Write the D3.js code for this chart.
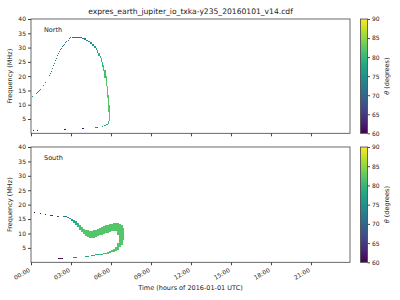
<!DOCTYPE html>
<html>
<head>
<meta charset="utf-8">
<script src="https://cdn.jsdelivr.net/npm/d3@7"></script>
<style>
  body { margin: 0; background: #fff; }
  text { font-family: "DejaVu Sans", sans-serif; fill: #222; }
</style>
</head>
<body>
<div id="chart"></div>
<script>
// time ticks (hours) and their labels
var hourTicks = [0, 3, 6, 9, 12, 15, 18, 21];
var hourLabels = ["00:00", "03:00", "06:00", "09:00", "12:00", "15:00", "18:00", "21:00"];
var freqTicks = [5, 10, 15, 20, 25, 30, 35, 40];
var thetaTicks = [60, 65, 70, 75, 80, 85, 90];

// each row: [start hour, end hour, freq low (MHz), freq high (MHz), theta (deg)]
var north = [
  [0.05, 0.12, 12.7, 13.05, 73], [0.35, 0.42, 13.85, 14.2, 73], [0.43, 0.5, 14.05, 14.4, 73],
  [0.5, 0.57, 14.45, 14.8, 73], [0.58, 0.65, 14.75, 15.1, 73], [0.65, 0.72, 15.15, 15.5, 73],
  [0.9, 0.97, 16.65, 17.0, 73], [1.05, 1.12, 17.75, 18.1, 73], [1.35, 1.42, 20.15, 20.5, 72],
  [1.42, 1.49, 20.85, 21.2, 72], [1.5, 1.57, 21.55, 21.9, 72], [1.57, 1.64, 22.65, 23.0, 72],
  [1.64, 1.71, 23.55, 23.9, 72], [1.71, 1.78, 24.35, 24.7, 72], [1.78, 1.85, 25.25, 25.6, 72],
  [1.86, 1.93, 26.15, 26.5, 72], [1.93, 2.0, 26.95, 27.3, 72], [2.01, 2.08, 27.75, 28.1, 72],
  [2.08, 2.15, 28.45, 28.8, 72], [2.16, 2.23, 29.05, 29.4, 71], [2.23, 2.3, 29.65, 30.0, 71],
  [2.31, 2.38, 30.15, 30.5, 71], [2.38, 2.45, 30.55, 30.9, 71], [2.46, 2.53, 31.05, 31.4, 71],
  [2.55, 2.62, 31.45, 31.8, 71], [2.66, 2.73, 31.95, 32.3, 71], [2.76, 2.83, 32.45, 32.8, 71],
  [2.85, 2.92, 32.85, 33.2, 70], [2.96, 3.03, 33.25, 33.6, 70], [3.06, 3.85, 33.4, 33.8, 70],
  [3.85, 4.0, 33.1, 33.5, 71], [4.0, 4.15, 32.8, 33.2, 72], [4.15, 4.3, 32.3, 32.8, 73],
  [4.3, 4.45, 31.9, 32.4, 74], [4.45, 4.6, 31.3, 31.9, 75], [4.6, 4.7, 30.7, 31.3, 76],
  [4.7, 4.85, 30.0, 30.7, 77], [4.85, 4.95, 29.1, 30.0, 78], [4.95, 5.05, 28.1, 29.1, 78],
  [5.05, 5.15, 27.2, 28.1, 79], [5.15, 5.25, 26.3, 27.2, 79], [5.25, 5.35, 25.1, 26.3, 80],
  [5.35, 5.42, 23.3, 25.1, 80], [5.42, 5.5, 21.8, 23.9, 81], [5.5, 5.6, 19.4, 22.2, 81],
  [5.6, 5.68, 16.6, 20.1, 82], [5.68, 5.78, 12.4, 16.6, 82], [5.78, 5.87, 7.5, 13.4, 82],
  [5.87, 5.95, 4.3, 9.9, 82],
  [5.8, 5.87, 3.3, 4.3, 80], [5.65, 5.8, 2.9, 3.3, 79], [5.5, 5.6, 2.6, 2.9, 78],
  [5.3, 5.4, 2.2, 2.6, 77], [4.8, 5.05, 1.9, 2.2, 74],
  [3.8, 4.0, 1.4, 1.8, 61], [2.45, 2.6, 1.15, 1.5, 61], [0.17, 0.25, 0.85, 1.2, 61], [0.43, 0.5, 0.85, 1.2, 61]
];

var south = [
  [0.2, 0.27, 17.25, 17.6, 60], [0.68, 0.75, 16.8, 17.15, 61], [1.05, 1.12, 16.4, 16.75, 62],
  [1.45, 1.65, 16.05, 16.4, 64], [1.92, 2.12, 15.85, 16.2, 67], [2.42, 2.68, 15.55, 15.9, 72],
  [2.68, 2.85, 15.3, 15.6, 74],
  [2.85, 3.0, 14.93, 15.28, 76], [3.0, 3.15, 14.5, 15.0, 77], [3.15, 3.3, 13.8, 14.7, 78],
  [3.3, 3.45, 12.95, 14.2, 79], [3.45, 3.6, 12.1, 13.65, 80], [3.6, 3.75, 11.2, 12.95, 81],
  [3.75, 3.9, 10.35, 12.25, 82], [3.9, 4.05, 9.65, 11.65, 82], [4.05, 4.2, 9.15, 11.3, 82],
  [4.2, 4.35, 8.8, 11.05, 82], [4.35, 4.5, 8.6, 10.9, 82], [4.5, 4.65, 8.55, 10.9, 82],
  [4.65, 4.8, 8.6, 11.05, 82], [4.8, 4.95, 8.8, 11.3, 82], [4.95, 5.1, 9.0, 11.65, 82],
  [5.1, 5.25, 9.3, 12.0, 82], [5.25, 5.4, 9.6, 12.3, 82], [5.4, 5.55, 9.8, 12.6, 82],
  [5.55, 5.7, 10.05, 12.85, 82], [5.7, 5.85, 10.3, 13.1, 82], [5.85, 6.0, 10.5, 13.3, 82],
  [6.0, 6.15, 10.7, 13.45, 82], [6.15, 6.3, 10.8, 13.65, 82], [6.3, 6.45, 10.85, 13.7, 82],
  [6.45, 6.6, 9.5, 13.65, 82], [6.6, 6.75, 5.3, 13.4, 82], [6.75, 6.9, 6.0, 12.95, 82],
  [6.9, 7.0, 7.75, 11.9, 82],
  [6.45, 6.6, 4.25, 6.7, 82], [6.3, 6.45, 4.0, 5.15, 82], [6.15, 6.3, 3.65, 4.6, 82],
  [6.0, 6.15, 3.4, 4.1, 82], [5.85, 6.0, 3.25, 3.75, 82], [5.7, 5.85, 3.05, 3.5, 82],
  [5.55, 5.7, 2.9, 3.3, 81], [5.4, 5.55, 2.8, 3.15, 81], [5.25, 5.4, 2.7, 3.0, 80],
  [5.1, 5.25, 2.6, 2.9, 80], [4.95, 5.1, 2.55, 2.8, 79], [4.8, 4.95, 2.5, 2.75, 79],
  [4.65, 4.8, 2.45, 2.7, 79], [4.5, 4.65, 2.4, 2.65, 78], [4.05, 4.35, 2.0, 2.3, 77],
  [3.15, 3.45, 1.5, 1.85, 74], [2.05, 2.4, 1.2, 1.5, 61]
];

var width = 400, height = 300;
var svg = d3.select("#chart").append("svg")
    .attr("width", width)
    .attr("height", height);

var x = d3.scaleLinear().domain([0, 23.93]).range([31, 350]);
var color = d3.scaleSequential(d3.interpolateViridis).domain([60, 90]);

svg.append("text")
  .attr("x", 190.5).attr("y", 14)
  .attr("text-anchor", "middle")
  .style("font-size", "7.6px")
  .text("expres_earth_jupiter_io_txka-y235_20160101_v14.cdf");

// gradient for the colorbars
var grad = svg.append("defs").append("linearGradient")
  .attr("id", "viridis").attr("x1", 0).attr("y1", 1).attr("x2", 0).attr("y2", 0);
d3.range(0, 1.01, 0.1).forEach(function(s) {
  grad.append("stop").attr("offset", s).attr("stop-color", d3.interpolateViridis(s));
});

function panel(data, top, bottom, name, showX) {
  var y = d3.scaleLinear().domain([0, 40]).range([bottom, top]);
  var g = svg.append("g");

  g.selectAll("rect.cell")
    .data(data)
    .enter().append("rect")
      .attr("class", "cell")
      .attr("x", function(d) { return x(d[0]); })
      .attr("width", function(d) { return Math.max(1, x(d[1]) - x(d[0])); })
      .attr("y", function(d) { return y(d[3]); })
      .attr("height", function(d) { return Math.max(1, y(d[2]) - y(d[3])); })
      .attr("fill", function(d) { return color(d[4]); })
      .attr("shape-rendering", "crispEdges");

  // frame
  g.append("rect")
    .attr("x", 31).attr("y", top)
    .attr("width", 319).attr("height", bottom - top)
    .attr("fill", "none").attr("stroke", "#444").attr("stroke-width", 0.8);

  var yAxis = g.append("g")
    .attr("transform", "translate(31,0)")
    .call(d3.axisLeft(y).tickValues(freqTicks).tickSize(3).tickPadding(2));
  yAxis.select(".domain").remove();
  yAxis.selectAll("line").attr("stroke", "#444");
  yAxis.selectAll("text").style("font-size", "6px").style("font-family", "DejaVu Sans").attr("fill", "#222");

  var xAxis = g.append("g")
    .attr("transform", "translate(0," + bottom + ")")
    .call(d3.axisBottom(x).tickValues(hourTicks).tickSize(3)
      .tickFormat(function(d, i) { return showX ? hourLabels[i] : ""; }));
  xAxis.select(".domain").remove();
  xAxis.selectAll("line").attr("stroke", "#444");
  xAxis.selectAll("text")
    .style("font-size", "6px").style("font-family", "DejaVu Sans").attr("fill", "#222")
    .attr("text-anchor", "end")
    .attr("dy", null).attr("y", 0)
    .attr("transform", "translate(-1,9) rotate(-30)");

  g.append("text")
    .attr("x", 44).attr("y", top + 13)
    .style("font-size", "6.5px")
    .text(name);

  g.append("text")
    .attr("transform", "translate(12," + ((top + bottom) / 2) + ") rotate(-90)")
    .attr("text-anchor", "middle")
    .style("font-size", "6.5px")
    .text("Frequency (MHz)");

  // colorbar
  var cy = d3.scaleLinear().domain([60, 90]).range([bottom, top]);
  g.append("rect")
    .attr("x", 360.5).attr("y", top)
    .attr("width", 7).attr("height", bottom - top)
    .attr("fill", "url(#viridis)")
    .attr("stroke", "#444").attr("stroke-width", 0.8);
  var cAxis = g.append("g")
    .attr("transform", "translate(367.5,0)")
    .call(d3.axisRight(cy).tickValues(thetaTicks).tickSize(2.5).tickPadding(2));
  cAxis.select(".domain").remove();
  cAxis.selectAll("line").attr("stroke", "#444");
  cAxis.selectAll("text").style("font-size", "6px").style("font-family", "DejaVu Sans").attr("fill", "#222");

  var lab = g.append("text")
    .attr("transform", "translate(389," + ((top + bottom) / 2) + ") rotate(-90)")
    .attr("text-anchor", "middle")
    .style("font-size", "6.5px");
  lab.append("tspan").style("font-style", "italic").text("\u03b8");
  lab.append("tspan").text(" (degrees)");
}

panel(north, 19, 133.3, "North", false);
panel(south, 147, 262.3, "South", true);

svg.append("text")
  .attr("x", 190.5).attr("y", 290)
  .attr("text-anchor", "middle")
  .style("font-size", "6.5px")
  .text("Time (hours of 2016-01-01 UTC)");
</script>
</body>
</html>
